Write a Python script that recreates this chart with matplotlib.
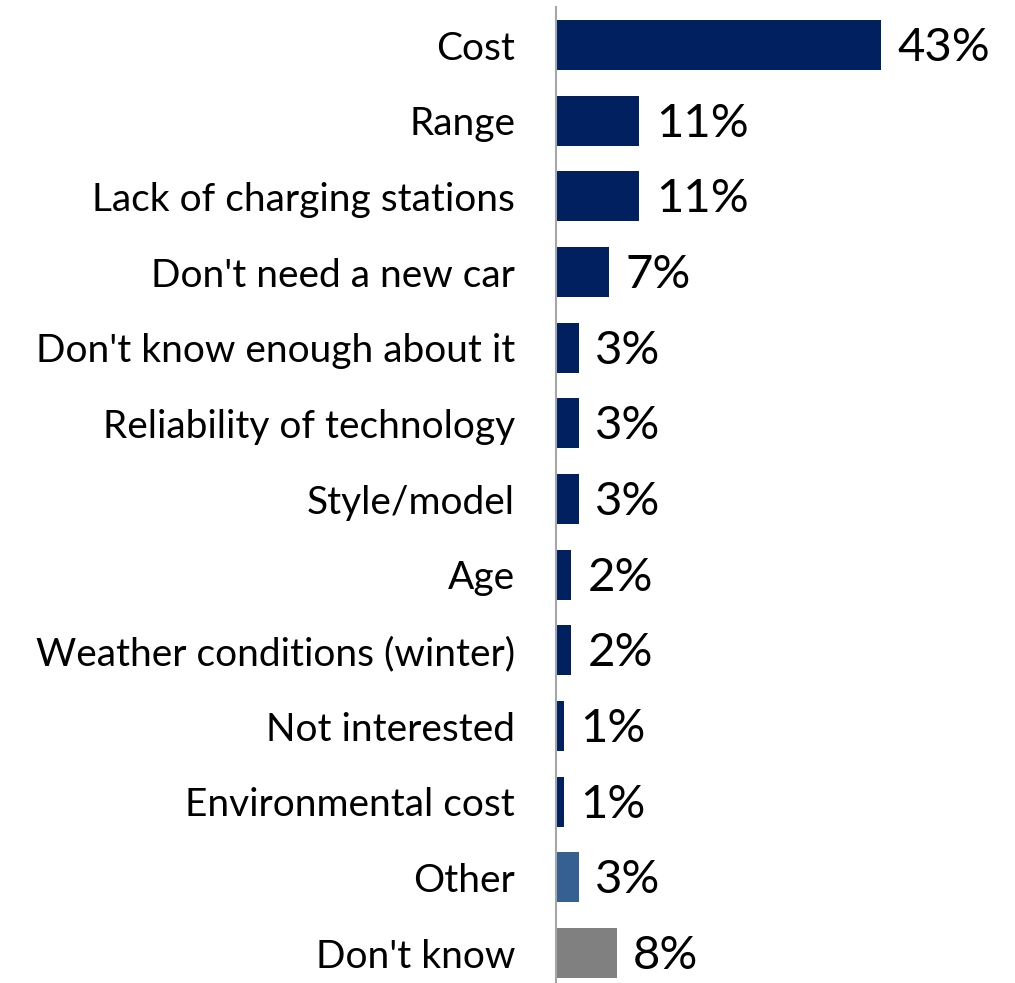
import matplotlib.pyplot as plt

reasons = ["Cost", "Range", "Lack of charging stations", "Don't need a new car",
           "Don't know enough about it", "Reliability of technology", "Style/model",
           "Age", "Weather conditions (winter)", "Not interested",
           "Environmental cost", "Other", "Don't know"]
shares = [43, 11, 11, 7, 3, 3, 3, 2, 2, 1, 1, 3, 8]
bar_colors = ["#002060"] * 11 + ["#376092", "#808080"]

plt.rcParams['font.family'] = ['Lato', 'DejaVu Sans']

fig = plt.figure(figsize=(10.15, 9.83), dpi=100)
ax = fig.add_axes([0.5478, -0.008, 0.447, 1.0007])

ypos = list(range(len(reasons)))
ax.barh(ypos, shares, height=0.66, color=bar_colors)
ax.set_ylim(len(reasons) - 0.5, -0.5)
ax.set_xlim(0, 60)

# percentage labels just past the end of each bar
for y, v in zip(ypos, shares):
    ax.text(v + 2.2, y + 0.04, f"{v}%", va='center', ha='left', fontsize=34)

ax.set_yticks(ypos)
ax.set_yticklabels(reasons, fontsize=28)
ax.tick_params(axis='y', length=0, pad=29.5)
ax.set_xticks([])
for side in ['top', 'right', 'bottom']:
    ax.spines[side].set_visible(False)
ax.spines['left'].set_color('#a6a6a6')
ax.spines['left'].set_linewidth(1.5)

fig.savefig("out.png", dpi=100)
